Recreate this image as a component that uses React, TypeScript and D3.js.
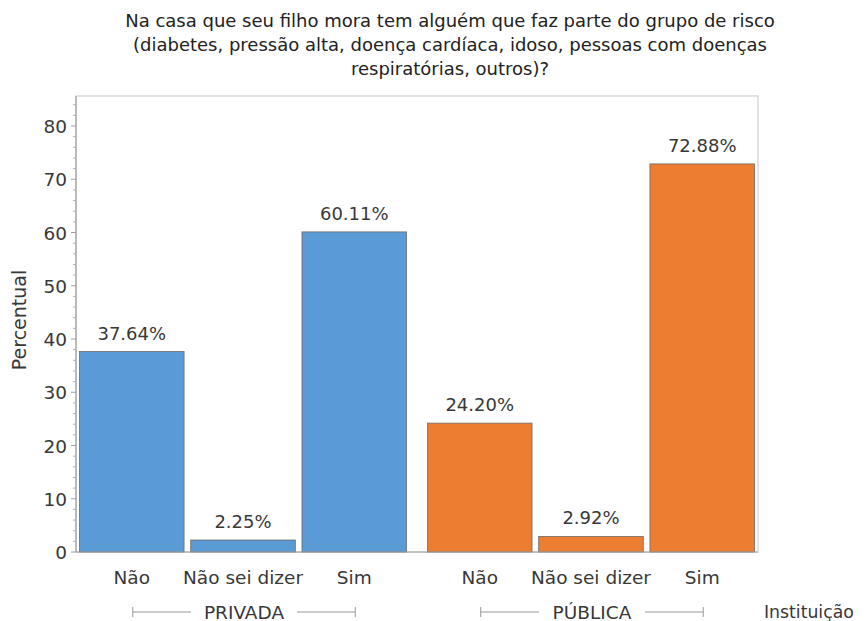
import React from "react";
import * as d3 from "d3";

const groups = ["PRIVADA", "PÚBLICA"];
const categories = ["Não", "Não sei dizer", "Sim"];
const privadaValues = [37.64, 2.25, 60.11];
const publicaValues = [24.2, 2.92, 72.88];
const groupColors = ["#5B9BD5", "#ED7D31"];
const yTicks = [0, 10, 20, 30, 40, 50, 60, 70, 80];
const titleLines = [
  "Na casa que seu filho mora tem alguém que faz parte do grupo de risco",
  "(diabetes, pressão alta, doença cardíaca, idoso, pessoas com doenças",
  "respiratórias, outros)?",
];

export default function App() {
  const W = 866, H = 621;
  const left = 76, right = 758, top = 96, bottom = 552;
  const font = "DejaVu Sans, Verdana, sans-serif";
  const textColor = "#383838";

  const y = d3.scaleLinear().domain([0, 80]).range([bottom, 126]);
  const xg = d3.scaleBand<string>().domain(groups).range([left, right]).paddingInner(0.06).paddingOuter(0.01);
  const xc = d3.scaleBand<string>().domain(categories).range([0, xg.bandwidth()]).paddingInner(0.06);

  const seriesValues = [privadaValues, publicaValues];
  const minorTicks = d3.range(0, 86, 2).filter((v) => v % 10 !== 0);

  return (
    <svg width={W} height={H} style={{ position: "absolute", left: 0, top: 0, background: "#fff" }}>
      <rect x={0} y={0} width={W} height={H} fill="#fff" />
      {titleLines.map((t, i) => (
        <text key={i} x={450} y={27 + i * 24} textAnchor="middle" fontFamily={font} fontSize={18} fill="#222">
          {t}
        </text>
      ))}
      {/* frame */}
      <rect x={left} y={top} width={right - left} height={bottom - top} fill="none" stroke="#d0d0d0" strokeWidth={1.2} />
      {/* bars */}
      {groups.map((g, gi) =>
        categories.map((c, ci) => {
          const v = seriesValues[gi][ci];
          const x0 = (xg(g) ?? 0) + (xc(c) ?? 0);
          const bw = xc.bandwidth();
          return (
            <g key={g + c}>
              <rect x={x0} y={y(v)} width={bw} height={bottom - y(v)} fill={groupColors[gi]} stroke="#6a6a6a" strokeWidth={0.8} />
              <text x={x0 + bw / 2} y={y(v) - 12} textAnchor="middle" fontFamily={font} fontSize={18} fill={textColor}>
                {v.toFixed(2) + "%"}
              </text>
              <text x={x0 + bw / 2} y={584} textAnchor="middle" fontFamily={font} fontSize={18.5} fill={textColor}>
                {c}
              </text>
            </g>
          );
        })
      )}
      {/* y axis */}
      <line x1={left} x2={left} y1={top} y2={bottom} stroke="#a0a0a0" strokeWidth={1.2} />
      <line x1={left} x2={right} y1={bottom} y2={bottom} stroke="#a0a0a0" strokeWidth={1} />
      {yTicks.map((t) => (
        <g key={t}>
          <line x1={left - 5} x2={left} y1={y(t)} y2={y(t)} stroke="#a0a0a0" />
          <text x={67} y={y(t) + 7} textAnchor="end" fontFamily={font} fontSize={18.5} fill={textColor}>
            {t}
          </text>
        </g>
      ))}
      {minorTicks.map((t) => (
        <line key={"m" + t} x1={left - 3} x2={left} y1={y(t)} y2={y(t)} stroke="#b0b0b0" />
      ))}
      <text transform={`translate(26,${(top + bottom) / 2 - 4}) rotate(-90)`} textAnchor="middle" fontFamily={font} fontSize={19} fill={textColor}>
        Percentual
      </text>
      {/* group labels with brackets */}
      {groups.map((g) => {
        const gx0 = (xg(g) ?? 0) + xc.bandwidth() / 2 + 1;
        const gx1 = (xg(g) ?? 0) + xg.bandwidth() - xc.bandwidth() / 2 + 1;
        const cx = (gx0 + gx1) / 2;
        const half = 53;
        const ly = 612;
        return (
          <g key={g}>
            <line x1={gx0} x2={cx - half} y1={ly} y2={ly} stroke="#999" />
            <line x1={cx + half} x2={gx1} y1={ly} y2={ly} stroke="#999" />
            <line x1={gx0} x2={gx0} y1={ly - 5} y2={ly + 5} stroke="#999" />
            <line x1={gx1} x2={gx1} y1={ly - 5} y2={ly + 5} stroke="#999" />
            <text x={cx} y={ly + 6.5} textAnchor="middle" fontFamily={font} fontSize={18.5} fill={textColor}>
              {g}
            </text>
          </g>
        );
      })}
      <text x={764} y={618} fontFamily={font} fontSize={17.3} fill={textColor}>
        Instituição
      </text>
    </svg>
  );
}
